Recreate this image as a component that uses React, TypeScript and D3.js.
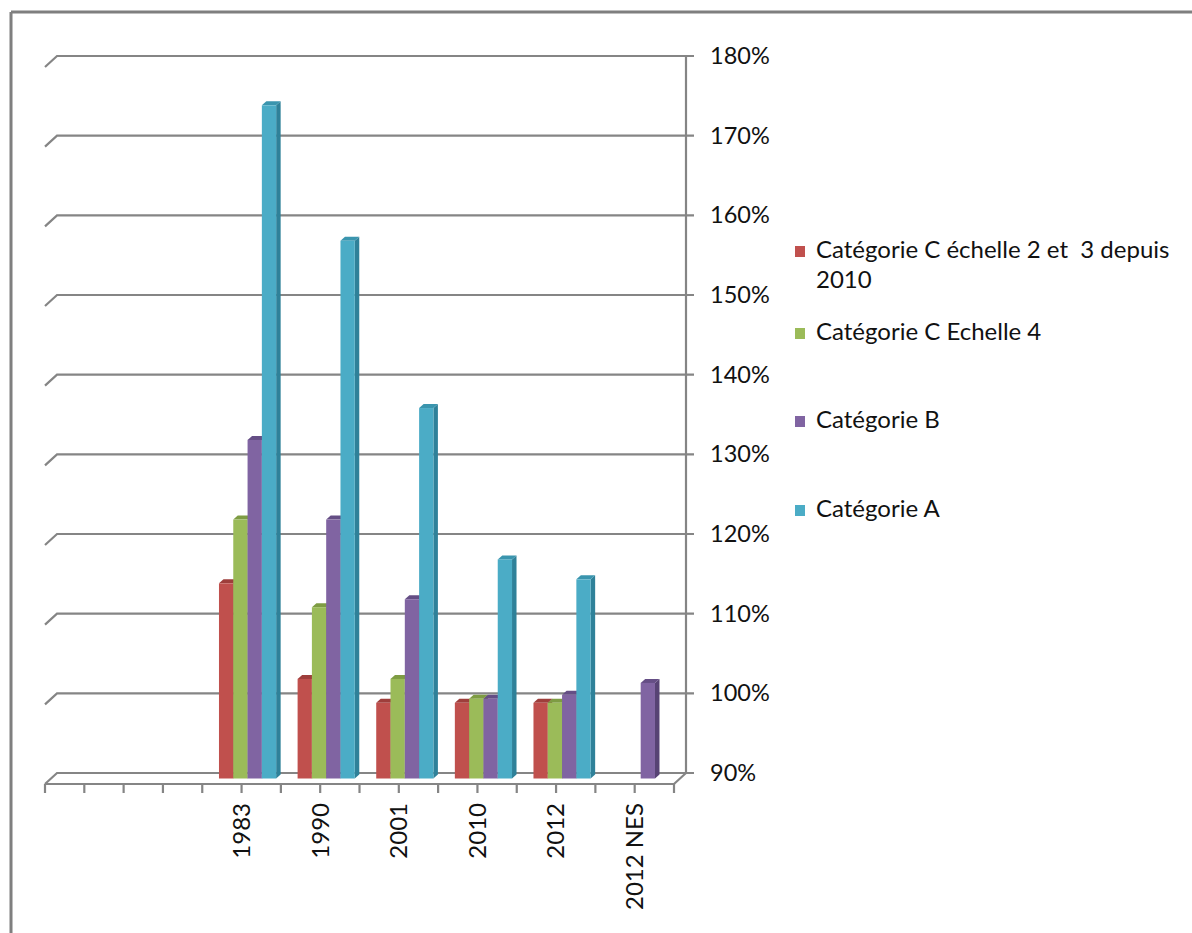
import React from "react";
import * as d3 from "d3";

const categories = ["", "", "1983", "1990", "2001", "2010", "2012", "2012 NES"];
const seriesNames = [
  "Catégorie C échelle 2 et  3 depuis 2010",
  "Catégorie C Echelle 4",
  "Catégorie B",
  "Catégorie A",
];
const legendLines = [
  ["Catégorie C échelle 2 et  3 depuis", "2010"],
  ["Catégorie C Echelle 4"],
  ["Catégorie B"],
  ["Catégorie A"],
];
const catC23 = [null, null, 114.5, 102.5, 99.5, 99.5, 99.5, null];
const catC4 = [null, null, 122.5, 111.5, 102.5, 100, 99.5, null];
const catB = [null, null, 132.5, 122.5, 112.5, 100, 100.5, 102];
const catA = [null, null, 174.5, 157.5, 136.5, 117.5, 115, null];
const seriesValues = [catC23, catC4, catB, catA];
const yTicks = [90, 100, 110, 120, 130, 140, 150, 160, 170, 180];

const frontColors = ["#C0504D", "#9BBB59", "#8064A2", "#4BACC6"];
const topColors = ["#9E3E3B", "#7E9C43", "#654E85", "#3A95AE"];
const sideColors = ["#8A3331", "#6E8A3A", "#574374", "#2F8199"];

const FONT = "Lato, 'Open Sans', sans-serif";

export default function App() {
  const W = 1192, H = 933;
  const DX = 12, DY = -11;
  const frontY = 784;
  const x = d3.scaleBand<number>().domain(d3.range(categories.length)).range([45, 674]).padding(0);
  const yBack = d3.scaleLinear().domain([90, 180]).range([773, 56]);
  const inner = d3.scaleBand<number>().domain(d3.range(seriesNames.length)).range([0, x.bandwidth()]).paddingInner(0).paddingOuter(0.75);
  const bx = DX / 2, by = DY / 2;
  const barDX = 4.5, barDY = -4;
  const yBar = (v: number) => yBack(v) - by;
  const pct = d3.format(".0%");
  const step = x.step() / 2;
  const tickXs = d3.range(0, categories.length * 2 + 1).map((i) => 45 + i * step);
  const baseY = yBar(90);

  return (
    <svg width={W} height={H} style={{ position: "absolute", left: 0, top: 0, display: "block", background: "#fff" }}>
      <line x1={11} y1={12} x2={W} y2={12} stroke="#7f7f7f" strokeWidth={3} />
      <line x1={11} y1={12} x2={11} y2={H} stroke="#7f7f7f" strokeWidth={3} />

      {yTicks.map((t) => {
        const y = yBack(t);
        return (
          <polyline key={t} points={`${45},${y - DY} ${45 + DX},${y} ${694},${y}`} fill="none" stroke="#858585" strokeWidth={2.2} />
        );
      })}
      <line x1={686} y1={yBack(180)} x2={686} y2={yBack(90)} stroke="#858585" strokeWidth={2.2} />
      <polyline points={`45,${frontY} 674,${frontY} 686,${frontY + DY}`} fill="none" stroke="#858585" strokeWidth={2.2} />
      {tickXs.map((tx, i) => (
        <line key={i} x1={tx} y1={frontY} x2={tx} y2={frontY + 9} stroke="#858585" strokeWidth={2.2} />
      ))}
      {yTicks.map((t) => (
        <text key={t} x={710} y={yBack(t) + 2} dominantBaseline="middle" fontFamily={FONT} fontSize={23.5} fill="#111">
          {pct(t / 100)}
        </text>
      ))}

      {categories.map((c, ci) => (
        <g key={ci}>
          {seriesValues.map((vals, si) => {
            const v = vals[ci];
            if (v == null) return null;
            const x0 = (x(ci) as number) + bx + (inner(si) as number);
            const w = inner.bandwidth();
            const yT = yBar(v);
            const yB = baseY;
            return (
              <g key={si}>
                <polygon points={`${x0 + w},${yT} ${x0 + w + barDX},${yT + barDY} ${x0 + w + barDX},${yB + barDY} ${x0 + w},${yB}`} fill={sideColors[si]} />
                <polygon points={`${x0},${yT} ${x0 + w},${yT} ${x0 + w + barDX},${yT + barDY} ${x0 + barDX},${yT + barDY}`} fill={topColors[si]} />
                <rect x={x0} y={yT} width={w} height={yB - yT} fill={frontColors[si]} />
              </g>
            );
          })}
        </g>
      ))}

      {categories.map((c, ci) =>
        c ? (
          <text key={ci} transform={`translate(${(x(ci) as number) + x.bandwidth() / 2},803) rotate(-90)`} textAnchor="end" dy="0.35em" fontFamily={FONT} fontSize={24} fill="#111">
            {c}
          </text>
        ) : null
      )}

      {legendLines.map((lines, i) => {
        const baselines = [258, 340, 428, 517];
        const b = baselines[i];
        return (
          <g key={i}>
            <rect x={795} y={b - 12} width={10} height={11} fill={frontColors[i]} />
            {lines.map((ln, li) => (
              <text key={li} x={816} y={b + li * 30} fontFamily={FONT} fontSize={24} fill="#111" style={{ whiteSpace: "pre" }}>
                {ln}
              </text>
            ))}
          </g>
        );
      })}
    </svg>
  );
}
